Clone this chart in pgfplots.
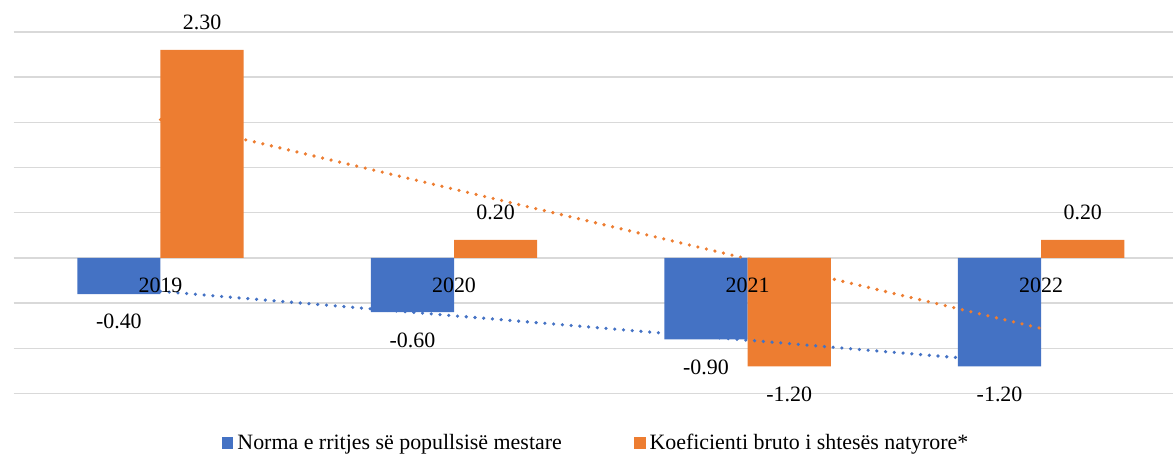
\documentclass[border=0pt]{standalone}
\usepackage{fontspec}
\setmainfont{Liberation Serif}
\usepackage{pgfplots}
\pgfplotsset{compat=1.18}
\definecolor{cblue}{HTML}{4472C4}
\definecolor{corange}{HTML}{ED7D31}
\definecolor{cgrid}{HTML}{D9D9D9}
\newcommand{\lblfont}{\fontsize{11}{13}\selectfont}
\begin{document}
\begin{tikzpicture}
\path (0,0) rectangle (587pt,229pt);
\begin{axis}[
  at={(5pt,31.5pt)}, anchor=south west,
  scale only axis, width=582pt, height=181.5pt,
  xmin=-0.5, xmax=3.45, ymin=-1.5, ymax=2.5,
  clip=false,
  axis lines=box, axis line style={draw=none},
  xtick={0,1,2,3}, xticklabels={},
  ytick={-1.5,-1,-0.5,0,0.5,1,1.5,2,2.5}, yticklabels={},
  major tick length=0pt,
  xtick style={draw=none}, ytick style={draw=none},
  ymajorgrids, grid style={cgrid, line width=0.75pt},
  legend style={at={(0.503,-0.138)}, anchor=center, draw=none, fill=none,
    legend columns=2, font=\lblfont,
    /tikz/every even column/.append style={column sep=34pt},
    nodes={inner xsep=2pt}},
  legend cell align=left,
  legend image code/.code={\draw[#1,draw=none,/tikz/.cd] (0pt,-3pt) rectangle (6pt,3pt);},
]
\addplot[ybar, bar width=41.75pt, bar shift=-20.875pt, fill=cblue, draw=none,
  nodes near coords={\pgfmathprintnumber[fixed,fixed zerofill,precision=2,assume math mode=true]{\pgfplotspointmeta}},
  nodes near coords align={vertical},
  every node near coord/.append style={font=\lblfont, text=black, inner ysep=10pt, xshift=-20.875pt, overlay}]
  coordinates {(0,-0.4) (1,-0.6) (2,-0.9) (3,-1.2)};
\addlegendentry{Norma e rritjes së popullsisë mestare}
\addplot[ybar, bar width=41.75pt, bar shift=20.875pt, fill=corange, draw=none,
  nodes near coords={\pgfmathprintnumber[fixed,fixed zerofill,precision=2,assume math mode=true]{\pgfplotspointmeta}},
  nodes near coords align={vertical},
  every node near coord/.append style={font=\lblfont, text=black, inner ysep=10pt, xshift=20.875pt, overlay}]
  coordinates {(0,2.3) (1,0.2) (2,-1.2) (3,0.2)};
\addlegendentry{Koeficienti bruto i shtesës natyrore*}
\addplot[sharp plot, forget plot, color=cblue, line width=1.8pt, line cap=round, dash pattern=on 0pt off 4.4pt]
  coordinates {(0,-0.37) (3,-1.18)};
\addplot[sharp plot, forget plot, color=corange, line width=1.8pt, line cap=round, dash pattern=on 0pt off 4.4pt]
  coordinates {(0,1.53) (3,-0.78)};
\addplot[forget plot, only marks, mark=none, point meta=explicit symbolic,
  nodes near coords, nodes near coords align={center},
  every node near coord/.append style={anchor=center, yshift=-14pt, font=\lblfont, text=black}]
  coordinates {(0,0) [2019] (1,0) [2020] (2,0) [2021] (3,0) [2022]};
\end{axis}
\end{tikzpicture}
\end{document}
